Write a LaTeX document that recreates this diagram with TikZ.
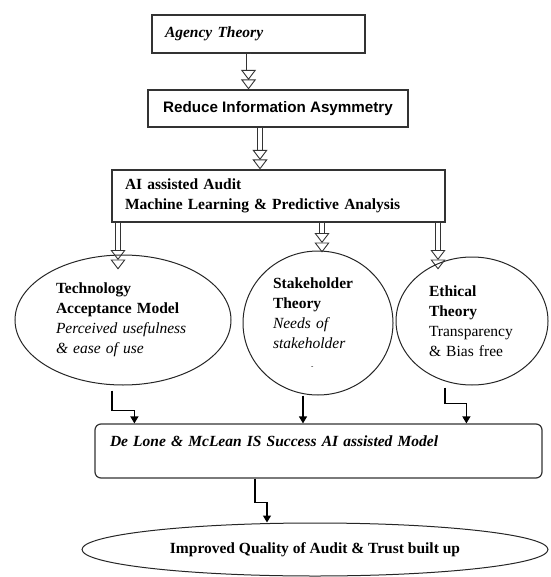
\documentclass[tikz,border=0pt]{standalone}
\usepackage{fontspec}
\setmainfont{Liberation Serif}
\newfontfamily\arialfont{Liberation Sans}
\usetikzlibrary{shapes.geometric,arrows.meta}
\tikzset{
box/.style={draw=black!80,line width=1.2pt,inner ysep=0pt,inner xsep=13pt,align=left},
oval/.style={draw=black!85,ellipse,line width=1pt,inner sep=0pt,align=left},
dbl/.style={preaction={draw=black!80,double,double distance=4pt,line width=0.9pt,shorten >=9.5pt},
  draw=black!80,line width=0.9pt,dash pattern=on 0pt off 2000pt,-{Triangle[open,width=15pt,length=10pt]}},
conn/.style={draw=black,line width=1.2pt,-{Triangle[width=8pt,length=7pt]}}
}
\begin{document}
\begin{tikzpicture}[x=1pt,y=-1pt,font=\fontsize{15.5}{20}\selectfont]
\useasboundingbox (0,0) rectangle (550,577);
\node[box,text width=187pt,minimum height=38pt] (agency) at (258.5,34) {\textbf{\textit{Agency Theory}}};
\node[box,minimum width=260pt,minimum height=37pt,font=\arialfont\bfseries\fontsize{15.2}{20}\selectfont] (reduce) at (278,108.5) {Reduce Information Asymmetry};
\node[box,text width=307pt,minimum height=52pt] (audit) at (278.5,196) {\textbf{AI assisted Audit}\\\textbf{Machine Learning \& Predictive Analysis}};

\node[oval,minimum width=216pt,minimum height=130pt,text width=134pt] (tam) at (123,320) {\textbf{Technology}\\\textbf{Acceptance Model}\\\textit{Perceived usefulness}\\\textit{\& ease of use}};
\node[oval,minimum width=150pt,minimum height=144pt,text width=90pt] (stake) at (318,323) {\textbf{Stakeholder}\\\textbf{Theory}\\\textit{Needs of}\\\textit{stakeholder}\\\hspace*{38pt}{\scriptsize -}};
\node[oval,minimum width=152pt,minimum height=128pt,text width=86pt] (eth) at (472,321) {\textbf{Ethical}\\\textbf{Theory}\\Transparency\\\& Bias free};

\node[box,rounded corners=6pt,text width=417pt,inner xsep=15pt,minimum height=54pt] (delone) at (318.5,451) {\textbf{\textit{De Lone \& McLean IS Success AI assisted Model}}\\~};
\node[oval,minimum width=466pt,minimum height=53pt] (outcome) at (315,549.5) {\textbf{Improved Quality of Audit \& Trust built up}};

\draw[dbl] ([xshift=-10pt]agency.south) -- ([xshift=-10pt]agency.south |- reduce.north);
\draw[dbl] ([xshift=-18pt]reduce.south) -- ([xshift=-18pt]reduce.south |- audit.north);
\draw[dbl] ([xshift=-5pt]tam.north |- audit.south) -- ([xshift=-5pt,yshift=-15pt]tam.north);
\draw[dbl] ([xshift=4pt]stake.north |- audit.south) -- ([xshift=4pt,yshift=-2pt]stake.north);
\draw[dbl] ([xshift=-34pt]eth.north |- audit.south) -- ([xshift=-34pt,yshift=-13pt]eth.north);

\draw[conn] ([xshift=-11pt,yshift=-5pt]tam.south) -- ++(0,20) -| ([xshift=40pt]delone.north west);
\draw[conn] ([xshift=-15pt]stake.south) -- ([xshift=-15pt]stake.south |- delone.north);
\draw[conn] ([xshift=-27pt,yshift=-2pt]eth.south) -- ++(0,16) -| ([xshift=372pt]delone.north west);
\draw[conn] ([xshift=-63.5pt]delone.south) -- ++(0,24) -| ([xshift=-48pt]outcome.north);
\end{tikzpicture}
\end{document}
